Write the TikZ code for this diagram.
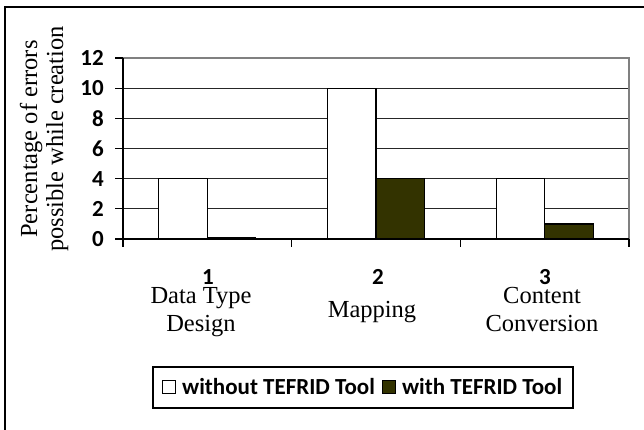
\documentclass[tikz,border=0pt]{standalone}
\usepackage{fontspec}
\setmainfont{Liberation Serif}
\newfontfamily\calib{Carlito}
\definecolor{darkbar}{RGB}{51,51,0}
\definecolor{frameGray}{RGB}{128,128,128}
\begin{document}
\begin{tikzpicture}[x=1pt,y=-1pt,
  gridline/.style={line width=1.3pt,black!85},
  axisline/.style={line width=1.3pt,black},
  barwhite/.style={draw=black,line width=1.3pt,fill=white},
  bardark/.style={draw=black,line width=1.3pt,fill=darkbar},
  ticklab/.style={font=\calib\bfseries\fontsize{23}{25}\selectfont,inner sep=0pt},
  catlab/.style={font=\fontsize{24.5}{28}\selectfont,align=center,inner sep=0pt},
  ytitle/.style={font=\fontsize{24.5}{26}\selectfont,inner sep=0pt,rotate=90,anchor=base},
  legtext/.style={font=\calib\bfseries\fontsize{23}{25}\selectfont,inner sep=0pt,anchor=base west},
  legsq/.style={draw=black,line width=0.8pt,minimum size=13pt,inner sep=0pt}
]
\useasboundingbox (0,0) rectangle (644,429);
% outer frame
\draw[line width=2pt,black] (5,440) -- (5,7) -- (650,7);
% gridlines
\foreach \v in {2,4,6,8,10}{
  \draw[gridline] (123,{239-\v*15.083}) -- (629,{239-\v*15.083});
}
% plot area border (top/right)
\draw[line width=1.6pt,frameGray] (123,58) -- (629,58) -- (629,239);
% bars
\def\bw{48.5}
\foreach \c/\a/\b in {207.3/4/0.1, 376/10/4, 544.7/4/1}{
  \draw[barwhite] ({\c-\bw},239) rectangle (\c,{239-\a*15.083});
  \draw[bardark] (\c,239) rectangle ({\c+\bw},{239-\b*15.083});
}
% axes
\draw[axisline] (123,58) -- (123,239) -- (629,239);
\foreach \v in {0,2,...,12}{
  \draw[axisline] (115,{239-\v*15.083}) -- (123,{239-\v*15.083});
  \node[ticklab,anchor=east] (t\v) at (104,{239-\v*15.083}) {\v};
}
\foreach \x in {123,291.7,460.3,629}{
  \draw[axisline] (\x,239) -- (\x,247);
}
% y title
\node[ytitle] (yt1) at (37,139) {Percentage of errors};
\node[ytitle] (yt2) at (63,139) {possible while creation};
% category numbers
\node[ticklab] (n1) at (208,277) {1};
\node[ticklab] (n2) at (378,277) {2};
\node[ticklab] (n3) at (545,277) {3};
% category labels
\node[catlab,anchor=base] (c1) at (201,331) {Data Type\\Design};
\node[catlab,anchor=base] (c2) at (372,317) {Mapping};
\node[catlab,anchor=base] (c3) at (542,331) {Content\\Conversion};
% legend
\draw[line width=1.6pt,black] (153,367) rectangle (573,408);
\node[legsq,fill=white,anchor=south west] (s1) at (162,394) {};
\node[legtext] (l1) at (182,394) {without TEFRID Tool};
\node[legsq,fill=darkbar,anchor=south west] (s2) at ([xshift=7pt]l1.base east) {};
\node[legtext] (l2) at ([xshift=6pt]s2.south east) {with TEFRID Tool};
\end{tikzpicture}
\end{document}
